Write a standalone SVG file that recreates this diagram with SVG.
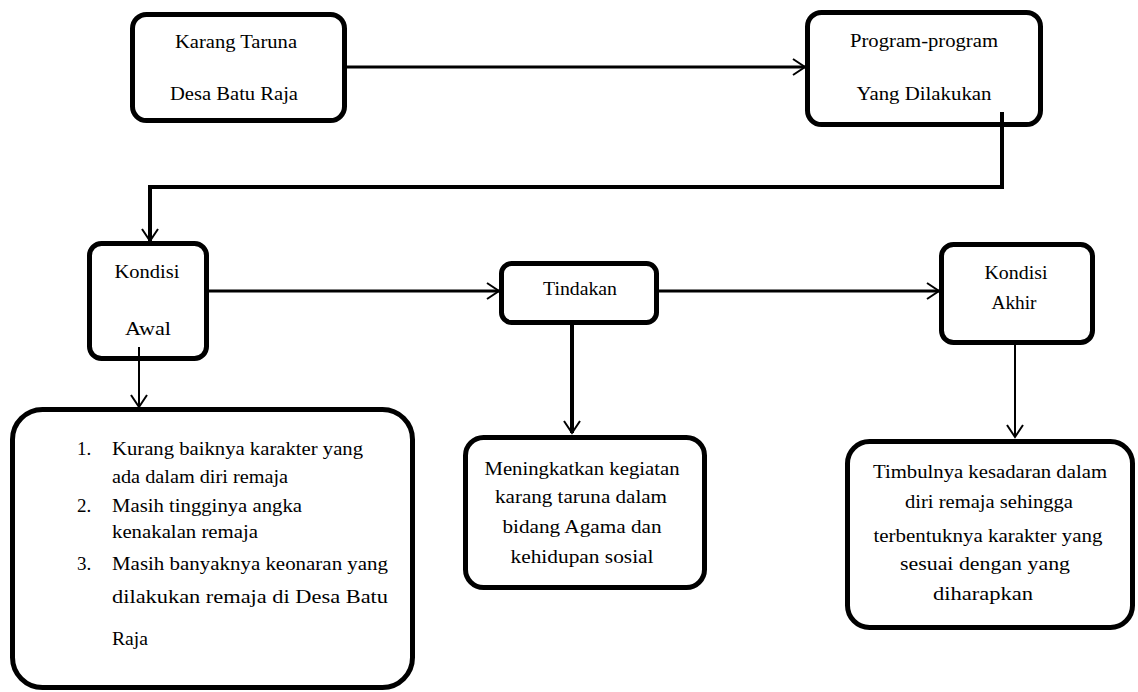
<svg xmlns="http://www.w3.org/2000/svg" width="1138" height="692" viewBox="0 0 1138 692">
<style>
.box{fill:#fff;stroke:#000;stroke-width:5}
.t{font-family:"Liberation Serif","Times New Roman",serif;font-size:19px;fill:#000}
.c{text-anchor:middle}
.ln{fill:none;stroke:#000}
</style>
<defs>
<marker id="ah" markerUnits="userSpaceOnUse" viewBox="-14 -10 16 20" refX="0" refY="0" markerWidth="16" markerHeight="20" orient="auto">
<path d="M-12,-8 L0,0 L-12,8" fill="none" stroke="#000" stroke-width="2"/>
</marker>
</defs>
<rect width="1138" height="692" fill="#fff"/>
<g id="karang-taruna">
<rect class="box" x="132.5" y="14.5" width="212" height="106" rx="14"/>
<text class="t c" x="236" y="48" textLength="122" lengthAdjust="spacingAndGlyphs">Karang Taruna</text>
<text class="t c" x="234" y="100" textLength="128" lengthAdjust="spacingAndGlyphs">Desa Batu Raja</text>
</g>
<g id="program">
<rect class="box" x="807.5" y="12.5" width="233" height="112" rx="14"/>
<text class="t c" x="924" y="47" textLength="148" lengthAdjust="spacingAndGlyphs">Program-program</text>
<text class="t c" x="924" y="100" textLength="135" lengthAdjust="spacingAndGlyphs">Yang Dilakukan</text>
</g>
<g id="kondisi-awal">
<rect class="box" x="89.5" y="243.5" width="117" height="115" rx="12"/>
<text class="t c" x="147" y="278" textLength="65" lengthAdjust="spacingAndGlyphs">Kondisi</text>
<text class="t c" x="148" y="335" textLength="46" lengthAdjust="spacingAndGlyphs">Awal</text>
</g>
<g id="tindakan">
<rect class="box" x="501.5" y="263.5" width="155" height="59" rx="10"/>
<text class="t c" x="580" y="295" textLength="74" lengthAdjust="spacingAndGlyphs">Tindakan</text>
</g>
<g id="kondisi-akhir">
<rect class="box" x="941.5" y="244.5" width="151" height="98" rx="12"/>
<text class="t c" x="1016" y="279" textLength="63" lengthAdjust="spacingAndGlyphs">Kondisi</text>
<text class="t c" x="1014" y="309" textLength="45" lengthAdjust="spacingAndGlyphs">Akhir</text>
</g>
<g id="kondisi-awal-detail">
<rect class="box" x="12.5" y="409.5" width="400" height="278" rx="30"/>
<text class="t" x="77" y="455">1.</text>
<text class="t" x="112" y="455" textLength="251" lengthAdjust="spacingAndGlyphs">Kurang baiknya karakter yang</text>
<text class="t" x="112" y="483" textLength="176" lengthAdjust="spacingAndGlyphs">ada dalam diri remaja</text>
<text class="t" x="77" y="512">2.</text>
<text class="t" x="112" y="512" textLength="190" lengthAdjust="spacingAndGlyphs">Masih tingginya angka</text>
<text class="t" x="112" y="538" textLength="146" lengthAdjust="spacingAndGlyphs">kenakalan remaja</text>
<text class="t" x="77" y="570">3.</text>
<text class="t" x="112" y="570" textLength="276" lengthAdjust="spacingAndGlyphs">Masih banyaknya keonaran yang</text>
<text class="t" x="112" y="603" textLength="276" lengthAdjust="spacingAndGlyphs">dilakukan remaja di Desa Batu</text>
<text class="t" x="112" y="645" textLength="36" lengthAdjust="spacingAndGlyphs">Raja</text>
</g>
<g id="tindakan-detail">
<rect class="box" x="465.5" y="437.5" width="239" height="150" rx="18"/>
<text class="t c" x="582" y="475" textLength="195" lengthAdjust="spacingAndGlyphs">Meningkatkan kegiatan</text>
<text class="t c" x="581" y="503" textLength="172" lengthAdjust="spacingAndGlyphs">karang taruna dalam</text>
<text class="t c" x="582" y="533" textLength="159" lengthAdjust="spacingAndGlyphs">bidang Agama dan</text>
<text class="t c" x="582" y="563" textLength="143" lengthAdjust="spacingAndGlyphs">kehidupan sosial</text>
</g>
<g id="kondisi-akhir-detail">
<rect class="box" x="847.5" y="441.5" width="285" height="186" rx="22"/>
<text class="t c" x="990" y="478" textLength="234" lengthAdjust="spacingAndGlyphs">Timbulnya kesadaran dalam</text>
<text class="t c" x="989" y="508" textLength="168" lengthAdjust="spacingAndGlyphs">diri remaja sehingga</text>
<text class="t c" x="988" y="542" textLength="229" lengthAdjust="spacingAndGlyphs">terbentuknya karakter yang</text>
<text class="t c" x="985" y="570" textLength="170" lengthAdjust="spacingAndGlyphs">sesuai dengan yang</text>
<text class="t c" x="983" y="600" textLength="100" lengthAdjust="spacingAndGlyphs">diharapkan</text>
</g>
<g id="connectors">
<path class="ln" d="M347,67 H805" stroke-width="3" marker-end="url(#ah)"/>
<path class="ln" d="M1002,112 V187 H150 V241" stroke-width="4" marker-end="url(#ah)"/>
<path class="ln" d="M139,347 V407" stroke-width="2" marker-end="url(#ah)"/>
<path class="ln" d="M209,291 H499" stroke-width="3" marker-end="url(#ah)"/>
<path class="ln" d="M659,291 H939" stroke-width="3" marker-end="url(#ah)"/>
<path class="ln" d="M572,325 V433" stroke-width="4" marker-end="url(#ah)"/>
<path class="ln" d="M1015,345 V437" stroke-width="2" marker-end="url(#ah)"/>
</g>
</svg>
